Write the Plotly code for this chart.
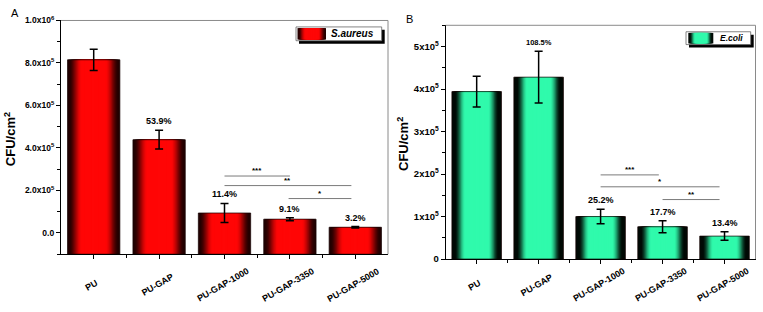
import plotly.graph_objects as go
import numpy as np

# ---------------- data ----------------
categories = ["PU", "PU-GAP", "PU-GAP-1000", "PU-GAP-3350", "PU-GAP-5000"]

sa_mean = [8.15e5, 4.39e5, 9.4e4, 6.5e4, 2.7e4]
sa_err = [5.0e4, 4.4e4, 4.5e4, 7.0e3, 3.0e3]
sa_pct = ["", "53.9%", "11.4%", "9.1%", "3.2%"]

ec_mean = [3.94e5, 4.28e5, 1.00e5, 7.6e4, 5.4e4]
ec_err = [3.6e4, 6.1e4, 1.7e4, 1.4e4, 1.0e4]
ec_pct = ["", "108.5%", "25.2%", "17.7%", "13.4%"]

# significance brackets: (from category index, to category index, y, label)
sa_brackets = [(2, 3, 2.68e5, "***"), (2, 3.94, 2.23e5, "**"), (2.98, 3.94, 1.62e5, "*")]
ec_brackets = [(2, 2.94, 1.98e5, "***"), (2, 3.92, 1.70e5, "*"), (3.0, 3.92, 1.40e5, "**")]

sa_ticks = [0, 2e5, 4e5, 6e5, 8e5, 1e6]
sa_ticktext = ["0.0", "2.0x10<sup>5</sup>", "4.0x10<sup>5</sup>", "6.0x10<sup>5</sup>",
               "8.0x10<sup>5</sup>", "1.0x10<sup>6</sup>"]
ec_ticks = [0, 1e5, 2e5, 3e5, 4e5, 5e5]
ec_ticktext = ["0", "1x10<sup>5</sup>", "2x10<sup>5</sup>", "3x10<sup>5</sup>",
               "4x10<sup>5</sup>", "5x10<sup>5</sup>"]

# ---------------- helpers ----------------
W, H = 763, 312
FONT = "Liberation Sans, Arial, sans-serif"


def X(px):
    return px / W


def Y(py):
    return 1 - py / H


def mix(dark, bright, f):
    f = max(0.0, min(1.0, f))
    f = f * f * (3 - 2 * f)
    c = [int(round(d + (b - d) * f)) for d, b in zip(dark, bright)]
    return "rgb(%d,%d,%d)" % tuple(c)


RED_DARK, RED_BRIGHT = (35, 0, 0), (255, 6, 6)
GRN_DARK, GRN_BRIGHT = (0, 10, 5), (48, 250, 172)


def red_f(s):
    return (0.95 - s) / 0.5


def grn_f(s):
    return (0.88 - s) / 0.42


xi = list(range(len(categories)))
fig = go.Figure()

NLAY = 30
BW = 0.8

DOM_A = [X(61), X(388)]
DOM_B = [X(445.7), X(755.5)]
XRANGE = [-0.5, 4.5]


def add_panel(means, errs, xa, ya, base, dark, bright, ffun):
    heights = [m - base for m in means]
    for k in range(NLAY):
        frac = 1 - k / NLAY
        s = 1 - (k + 0.5) / NLAY
        fig.add_trace(go.Bar(
            x=xi, y=heights, base=base, width=BW * frac, xaxis=xa, yaxis=ya,
            marker=dict(color=mix(dark, bright, ffun(s)), line=dict(width=0)),
            hoverinfo="skip", showlegend=False))
    fig.add_trace(go.Bar(
        x=xi, y=heights, base=base, width=BW, xaxis=xa, yaxis=ya,
        marker=dict(color="rgba(0,0,0,0)", line=dict(width=0.8, color="rgba(20,0,0,0.9)")),
        hoverinfo="skip", showlegend=False))
    fig.add_trace(go.Scatter(
        x=xi, y=means, mode="markers", xaxis=xa, yaxis=ya,
        marker=dict(size=1, color="rgba(0,0,0,0)"),
        error_y=dict(type="data", array=errs, color="black", thickness=1.5, width=4),
        hoverinfo="skip", showlegend=False))


add_panel(sa_mean, sa_err, "x", "y", -1e5, RED_DARK, RED_BRIGHT, red_f)
add_panel(ec_mean, ec_err, "x2", "y2", 0, GRN_DARK, GRN_BRIGHT, grn_f)

annotations = []
shapes = []

# percent labels (sit just above the error bar tops)
for i, (m, e, t) in enumerate(zip(sa_mean, sa_err, sa_pct)):
    if t:
        annotations.append(dict(x=i, y=m + e, xref="x", yref="y", text=t, showarrow=False,
                                yanchor="bottom", borderpad=3,
                                font=dict(family=FONT, size=9, color="black", weight="bold")))
for i, (m, e, t) in enumerate(zip(ec_mean, ec_err, ec_pct)):
    if t:
        annotations.append(dict(x=i, y=m + e, xref="x2", yref="y2", text=t, showarrow=False,
                                yanchor="bottom", borderpad=3,
                                font=dict(family=FONT, size=7.5 if len(t) > 5 else 9,
                                          color="black", weight="bold")))

# brackets
for brs, xr, yr in [(sa_brackets, "x", "y"), (ec_brackets, "x2", "y2")]:
    for x0, x1, yv, lab in brs:
        shapes.append(dict(type="line", xref=xr, yref=yr, x0=x0, x1=x1, y0=yv, y1=yv,
                           line=dict(color="#7a7a7a", width=1)))
        annotations.append(dict(x=(x0 + x1) / 2, y=yv, xref=xr, yref=yr, text=lab,
                                showarrow=False, yanchor="bottom", borderpad=0,
                                font=dict(family=FONT, size=8, color="black", weight="bold")))

# x tick labels: rotated annotations centred under the ticks of each panel
for dom in (DOM_A, DOM_B):
    for i, c in enumerate(categories):
        xp = dom[0] + (i - XRANGE[0]) / (XRANGE[1] - XRANGE[0]) * (dom[1] - dom[0]) - X(2)
        annotations.append(dict(x=xp, xref="paper", y=Y(289), yref="paper", text=c,
                                textangle=-30, showarrow=False, xanchor="center",
                                yanchor="middle",
                                font=dict(family=FONT, size=9, color="black", weight="bold")))

# axis titles
annotations.append(dict(x=X(10), y=Y(138), xref="paper", yref="paper", text="CFU/cm<sup>2</sup>",
                        textangle=-90, showarrow=False, xanchor="center", yanchor="middle",
                        font=dict(family=FONT, size=13, color="black", weight="bold")))
annotations.append(dict(x=X(403), y=Y(143), xref="paper", yref="paper", text="CFU/cm<sup>2</sup>",
                        textangle=-90, showarrow=False, xanchor="center", yanchor="middle",
                        font=dict(family=FONT, size=13, color="black", weight="bold")))

# panel letters
annotations.append(dict(x=X(15), y=Y(7.5), xref="paper", yref="paper", text="A", showarrow=False,
                        xanchor="center", yanchor="middle",
                        font=dict(family=FONT, size=11, color="black")))
annotations.append(dict(x=X(409.7), y=Y(13), xref="paper", yref="paper", text="B", showarrow=False,
                        xanchor="center", yanchor="middle",
                        font=dict(family=FONT, size=11, color="black")))

# frame (top / right) lines
for xr, yr in [("x domain", "y domain"), ("x2 domain", "y2 domain")]:
    shapes.append(dict(type="line", xref=xr, yref=yr, x0=0, x1=1, y0=1, y1=1,
                       line=dict(color="#8a8a8a", width=1)))
    shapes.append(dict(type="line", xref=xr, yref=yr, x0=1, x1=1, y0=0, y1=1,
                       line=dict(color="#8a8a8a", width=1)))


# custom legends
def legend(box, sw, text, tx, dark, bright, ffun, fsize):
    bx0, by0, bx1, by1 = box
    shapes.append(dict(type="rect", xref="paper", yref="paper",
                       x0=X(bx0 + 3), x1=X(bx1 + 3), y0=Y(by1 + 3), y1=Y(by0 + 3),
                       fillcolor="black", line=dict(width=0)))
    shapes.append(dict(type="rect", xref="paper", yref="paper",
                       x0=X(bx0), x1=X(bx1), y0=Y(by1), y1=Y(by0),
                       fillcolor="white", line=dict(color="#666", width=0.8)))
    sx0, sx1 = sw
    n = 12
    for k in range(n):
        s = 1 - (k + 0.5) / n
        half = (sx1 - sx0) / 2 * (1 - k / n)
        cx = (sx0 + sx1) / 2
        shapes.append(dict(type="rect", xref="paper", yref="paper",
                           x0=X(cx - half), x1=X(cx + half), y0=Y(by1 - 1.2), y1=Y(by0 + 1.2),
                           fillcolor=mix(dark, bright, ffun(s)), line=dict(width=0)))
    annotations.append(dict(x=X(tx), y=Y((by0 + by1) / 2), xref="paper", yref="paper",
                            text="<i>%s</i>" % text, showarrow=False, xanchor="left",
                            yanchor="middle", borderpad=0,
                            font=dict(family=FONT, size=fsize, color="black", weight="bold")))


legend((296, 21.7, 381.7, 36), (297.5, 326), "S.aureus", 330, RED_DARK, RED_BRIGHT, red_f, 10)
legend((686, 26.7, 750.7, 40), (688.3, 713.3), "E.coli", 719, GRN_DARK, GRN_BRIGHT, grn_f, 8.5)

axis_common = dict(showgrid=False, zeroline=False, showline=True, linecolor="black",
                   linewidth=1.2, ticks="outside", tickcolor="black", tickwidth=1)

fig.update_layout(
    width=W, height=H, margin=dict(l=0, r=0, t=0, b=0),
    paper_bgcolor="white", plot_bgcolor="white", barmode="overlay", showlegend=False,
    font=dict(family=FONT, color="black"),
    xaxis=dict(domain=DOM_A, anchor="y", range=XRANGE, tickmode="array",
               tickvals=xi, showticklabels=False, ticklen=4,
               minor=dict(tickmode="array", tickvals=[0.5, 1.5, 2.5, 3.5], ticklen=2.5,
                          ticks="outside", tickcolor="black"),
               **axis_common),
    yaxis=dict(domain=[Y(257.3), Y(15)], anchor="x", range=[-1e5, 1e6], tickmode="array",
               tickvals=sa_ticks, ticktext=sa_ticktext, ticklen=4,
               tickfont=dict(family=FONT, size=8.5, color="black", weight="bold"),
               minor=dict(tickmode="array", tickvals=[-1e5, 1e5, 3e5, 5e5, 7e5, 9e5], ticklen=2.5,
                          ticks="outside", tickcolor="black"),
               **axis_common),
    xaxis2=dict(domain=DOM_B, anchor="y2", range=XRANGE, tickmode="array",
                tickvals=xi, showticklabels=False, ticklen=4,
                minor=dict(tickmode="array", tickvals=[0.5, 1.5, 2.5, 3.5], ticklen=2.5,
                           ticks="outside", tickcolor="black"),
                **axis_common),
    yaxis2=dict(domain=[Y(262.3), Y(20)], anchor="x2", range=[0, 5.5e5], tickmode="array",
                tickvals=ec_ticks, ticktext=ec_ticktext, ticklen=4,
                tickfont=dict(family=FONT, size=9.5, color="black", weight="bold"),
                minor=dict(tickmode="array", tickvals=[5e4, 1.5e5, 2.5e5, 3.5e5, 4.5e5, 5.5e5],
                           ticklen=2.5, ticks="outside", tickcolor="black"),
                **axis_common),
    annotations=annotations, shapes=shapes,
)

fig.write_html("out.html", config={"displayModeBar": False},
               post_script="document.body.style.margin='0';document.body.style.padding='0';")
